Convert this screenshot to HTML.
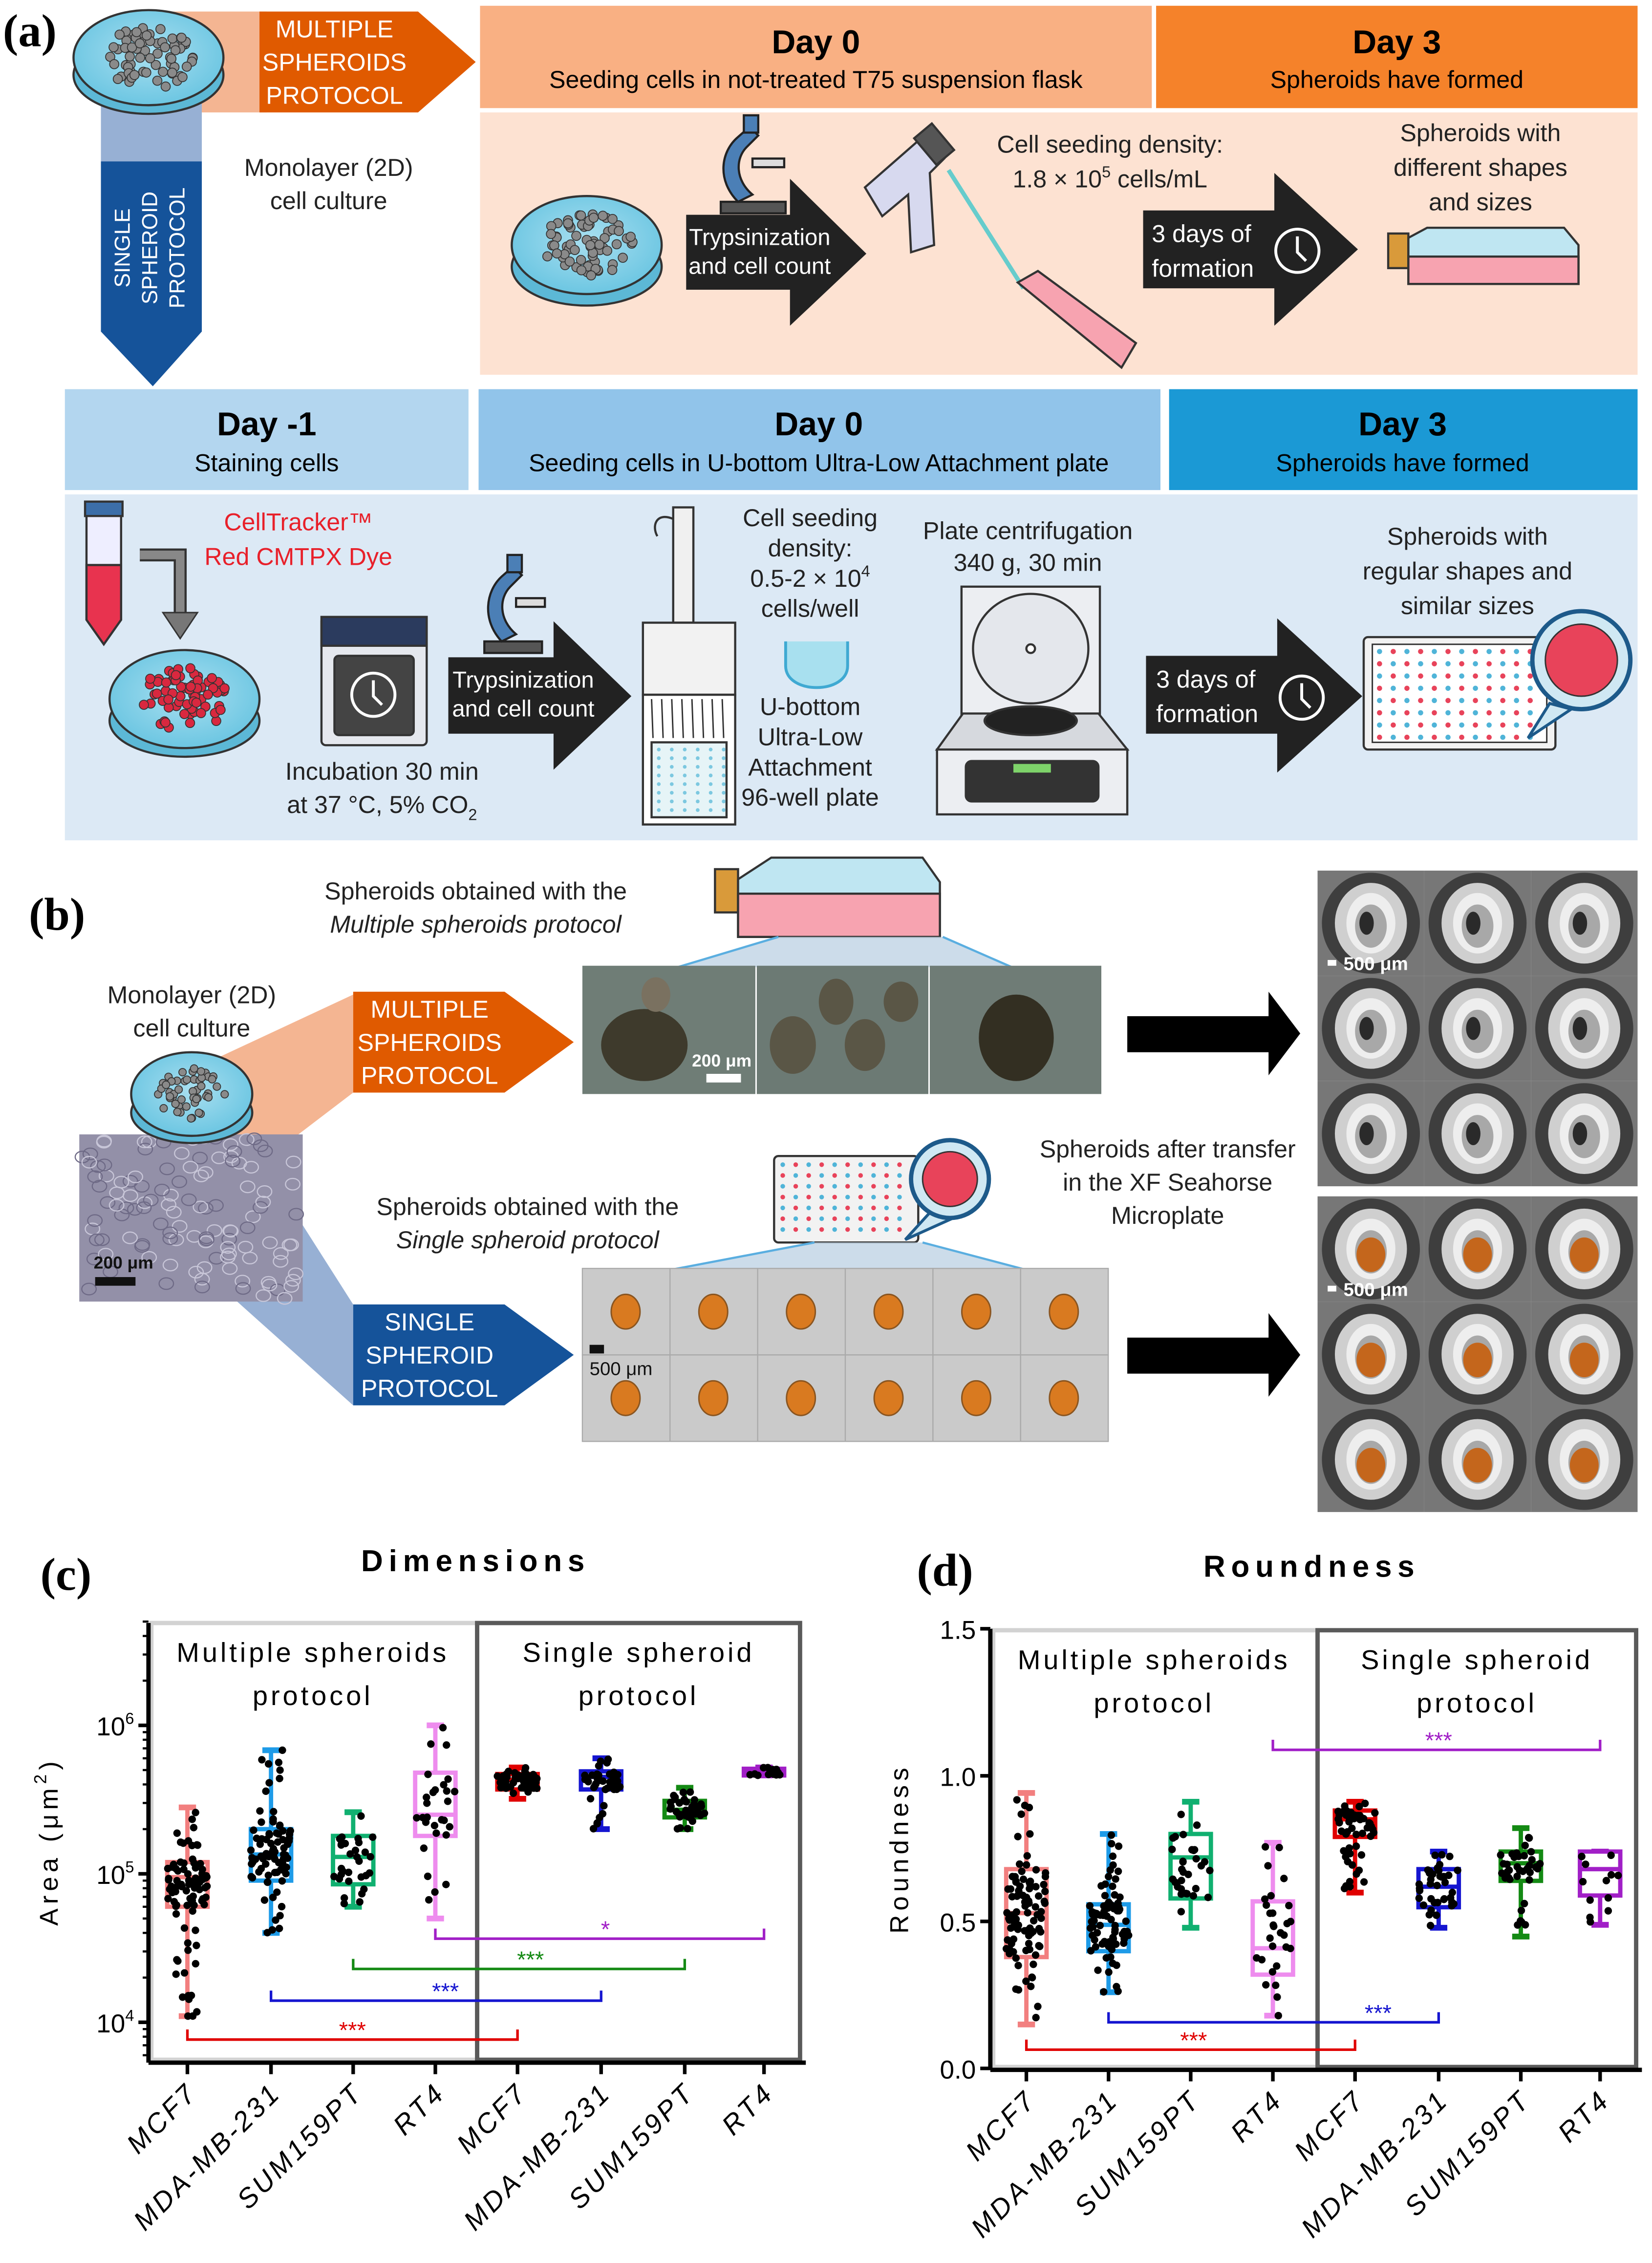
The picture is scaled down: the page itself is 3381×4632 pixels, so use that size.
<!DOCTYPE html>
<html><head><meta charset="utf-8">
<style>
html,body{margin:0;padding:0;background:#fff;}
body{width:3381px;height:4632px;overflow:hidden;}
svg{display:block;}
text{font-family:"Liberation Sans Narrow","Liberation Sans",sans-serif;}
.c{text-anchor:middle;}
.lab{font-family:"Liberation Serif",serif;font-weight:bold;font-size:32px;}
.wh{fill:#fff;font-size:17px;text-anchor:middle;}
.hd{font-size:23px;font-weight:bold;text-anchor:middle;}
.sb{font-size:17px;text-anchor:middle;}
.t{font-size:17px;text-anchor:middle;fill:#222;}
.ax{font-family:"Liberation Sans",sans-serif;}
</style></head><body>
<svg id="s" width="3381" height="4632" viewBox="0 0 1146 1570" preserveAspectRatio="none" xmlns="http://www.w3.org/2000/svg">
<defs>
<radialGradient id="dish" cx="50%" cy="45%" r="55%"><stop offset="0" stop-color="#a9dff0"/><stop offset="1" stop-color="#6cc6e2"/></radialGradient>
</defs>
<!-- (a) -->
<text x="2" y="32" class="lab">(a)</text>
<rect x="95" y="8" width="90" height="70" fill="#f4b592"/>
<polygon points="180,8 290,8 330,43 290,78 180,78" fill="#e05a00"/>
<text x="232" y="26" class="wh">MULTIPLE</text>
<text x="232" y="49" class="wh">SPHEROIDS</text>
<text x="232" y="72" class="wh">PROTOCOL</text>
<rect x="70" y="70" width="70" height="42" fill="#97b0d4"/>
<polygon points="70,112 140,112 140,230 106,268 70,230" fill="#15539a"/>
<g transform="translate(106,172) rotate(-90)" fill="#fff" font-size="15" text-anchor="middle" style="font-family:'Liberation Sans',sans-serif">
<text x="0" y="-16">SINGLE</text><text x="0" y="3">SPHEROID</text><text x="0" y="22">PROTOCOL</text></g>
<ellipse cx="103" cy="52" rx="52" ry="27" fill="#5cb8d6" stroke="#333" stroke-width="1.5"/>
<ellipse cx="103" cy="40" rx="52" ry="33" fill="url(#dish)" stroke="#333" stroke-width="1.5"/>
<g id="cells1"></g>
<text x="228" y="122" class="t">Monolayer (2D)</text>
<text x="228" y="145" class="t">cell culture</text>

<rect x="333" y="4" width="466" height="71" fill="#f9b083"/>
<rect x="802" y="4" width="334" height="71" fill="#f5822a"/>
<rect x="333" y="78" width="803" height="182" fill="#fde2d2"/>
<text x="566" y="37" class="hd">Day 0</text>
<text x="566" y="61" class="sb">Seeding cells in not-treated T75 suspension flask</text>
<text x="969" y="37" class="hd">Day 3</text>
<text x="969" y="61" class="sb">Spheroids have formed</text>

<ellipse cx="407" cy="185" rx="52" ry="27" fill="#5cb8d6" stroke="#333" stroke-width="1.5"/>
<ellipse cx="407" cy="170" rx="52" ry="34" fill="url(#dish)" stroke="#333" stroke-width="1.5"/>
<g id="cells2"></g>
<g transform="translate(492,80)" stroke="#222" stroke-width="1.5">
<rect x="8" y="60" width="45" height="8" fill="#555"/>
<path d="M20,60 C5,45 8,25 20,15 L28,8 L34,14 L26,22 C18,30 18,45 30,55 Z" fill="#4b7fb6"/>
<rect x="24" y="0" width="10" height="12" fill="#4b7fb6"/>
<rect x="30" y="30" width="22" height="6" fill="#ddd"/>
</g>
<polygon points="476,149 548,149 548,124 601,176 548,226 548,201 476,201" fill="#222"/>
<text x="527" y="170" font-size="16" fill="#fff" text-anchor="middle">Trypsinization</text>
<text x="527" y="190" font-size="16" fill="#fff" text-anchor="middle">and cell count</text>
<g stroke="#333" stroke-width="1.5">
<path d="M600,130 L640,95 L655,110 L645,120 L648,170 L632,175 L630,135 L612,150 Z" fill="#d7d9ef"/>
<rect x="640" y="88" width="16" height="24" fill="#555" transform="rotate(-40 648 100)"/>
<line x1="658" y1="118" x2="710" y2="200" stroke="#6cc" stroke-width="3"/>
<polygon points="706,196 720,188 788,238 778,255" fill="#f7a3b0"/>
</g>
<text x="770" y="106" class="t">Cell seeding density:</text>
<text x="770" y="130" class="t">1.8 × 10<tspan dy="-7" font-size="11">5</tspan><tspan dy="7"> cells/mL</tspan></text>
<polygon points="793,146 884,146 884,120 942,173 884,226 884,200 793,200" fill="#222"/>
<text x="799" y="168" font-size="17" fill="#fff">3 days of</text>
<text x="799" y="192" font-size="17" fill="#fff">formation</text>
<circle cx="900" cy="174" r="15" fill="none" stroke="#fff" stroke-width="2"/>
<path d="M900,164 L900,175 L906,181" stroke="#fff" stroke-width="2" fill="none"/>
<text x="1027" y="98" class="t">Spheroids with</text>
<text x="1027" y="122" class="t">different shapes</text>
<text x="1027" y="146" class="t">and sizes</text>
<g stroke="#333" stroke-width="1.5">
<rect x="963" y="162" width="14" height="24" fill="#d99a3a"/>
<polygon points="977,165 990,158 1085,158 1095,170 1095,197 977,197" fill="#bfe6f2"/>
<rect x="977" y="178" width="118" height="19" fill="#f7a3b0"/>
</g>

<rect x="45" y="270" width="280" height="70" fill="#b3d6ef"/>
<rect x="332" y="270" width="473" height="70" fill="#91c4ea"/>
<rect x="811" y="270" width="325" height="70" fill="#1b99d5"/>
<rect x="45" y="343" width="1091" height="240" fill="#dce9f5"/>
<text x="185" y="302" class="hd">Day -1</text>
<text x="185" y="327" class="sb">Staining cells</text>
<text x="568" y="302" class="hd">Day 0</text>
<text x="568" y="327" class="sb">Seeding cells in U-bottom Ultra-Low Attachment plate</text>
<text x="973" y="302" class="hd">Day 3</text>
<text x="973" y="327" class="sb">Spheroids have formed</text>
<g stroke="#333" stroke-width="1.5">
<rect x="59" y="348" width="26" height="10" fill="#3c6ea8"/>
<path d="M60,358 L84,358 L84,430 L72,447 L60,430 Z" fill="#eef"/>
<path d="M60,392 L84,392 L84,430 L72,447 L60,430 Z" fill="#e8334f"/>
</g>
<path d="M97,385 L125,385 L125,430" stroke="#333" stroke-width="9" fill="none"/>
<path d="M97,385 L125,385 L125,430" stroke="#888" stroke-width="6" fill="none"/>
<polygon points="113,425 137,425 125,443" fill="#777" stroke="#333"/>
<text x="207" y="368" font-size="17" fill="#e8202a" text-anchor="middle">CellTracker™</text>
<text x="207" y="392" font-size="17" fill="#e8202a" text-anchor="middle">Red CMTPX Dye</text>
<ellipse cx="128" cy="500" rx="52" ry="25" fill="#5cb8d6" stroke="#333" stroke-width="1.5"/>
<ellipse cx="128" cy="485" rx="52" ry="34" fill="url(#dish)" stroke="#333" stroke-width="1.5"/>
<g id="cells3"></g>
<g stroke="#333" stroke-width="1.5">
<rect x="223" y="428" width="73" height="89" rx="3" fill="#e5e8ee"/>
<rect x="223" y="428" width="73" height="20" fill="#2b3b5e"/>
<rect x="232" y="455" width="55" height="55" rx="3" fill="#444"/>
<circle cx="259" cy="482" r="15" fill="none" stroke="#fff" stroke-width="2"/>
<path d="M259,472 L259,483 L265,489" stroke="#fff" stroke-width="2" fill="none"/>
</g>
<text x="265" y="541" class="t">Incubation 30 min</text>
<text x="265" y="564" class="t">at 37 °C, 5% CO<tspan dy="5" font-size="11">2</tspan></text>
<g transform="translate(330,385)" stroke="#222" stroke-width="1.5">
<rect x="6" y="60" width="40" height="8" fill="#555"/>
<path d="M18,60 C4,45 7,25 18,15 L26,8 L32,14 L24,22 C16,30 16,45 28,55 Z" fill="#4b7fb6"/>
<rect x="22" y="0" width="10" height="12" fill="#4b7fb6"/>
<rect x="28" y="30" width="20" height="6" fill="#ddd"/>
</g>
<polygon points="311,456 384,456 384,431 438,483 384,534 384,509 311,509" fill="#222"/>
<text x="363" y="477" font-size="16" fill="#fff" text-anchor="middle">Trypsinization</text>
<text x="363" y="497" font-size="16" fill="#fff" text-anchor="middle">and cell count</text>
<g stroke="#333" stroke-width="1.5">
<rect x="467" y="352" width="14" height="80" fill="#f0f0f0"/>
<path d="M467,360 C455,355 452,365 456,372" fill="none"/>
<rect x="446" y="432" width="64" height="50" fill="#f2f2f2"/>
<rect x="446" y="482" width="64" height="90" fill="#fff"/>
<rect x="452" y="515" width="52" height="52" fill="#e6f4f7"/>
</g>
<g id="mcp"></g>
<text x="562" y="365" class="t">Cell seeding</text>
<text x="562" y="386" class="t">density:</text>
<text x="562" y="407" class="t">0.5-2 × 10<tspan dy="-7" font-size="11">4</tspan></text>
<text x="562" y="428" class="t">cells/well</text>
<path d="M545,445 L545,462 C545,482 588,482 588,462 L588,445" fill="#a8e0ef" stroke="#3fa9d2" stroke-width="2"/>
<text x="562" y="496" class="t">U-bottom</text>
<text x="562" y="517" class="t">Ultra-Low</text>
<text x="562" y="538" class="t">Attachment</text>
<text x="562" y="559" class="t">96-well plate</text>
<text x="713" y="374" class="t">Plate centrifugation</text>
<text x="713" y="396" class="t">340 g, 30 min</text>
<g stroke="#333" stroke-width="1.5">
<rect x="667" y="407" width="96" height="100" fill="#eceef2"/>
<ellipse cx="715" cy="450" rx="40" ry="38" fill="#e4e7ec"/>
<circle cx="715" cy="450" r="3" fill="#fff"/>
<path d="M650,520 L668,495 L762,495 L782,520 Z" fill="#d6d9de"/>
<ellipse cx="715" cy="500" rx="32" ry="10" fill="#222"/>
<rect x="650" y="520" width="132" height="45" fill="#eceef2"/>
<rect x="670" y="528" width="92" height="28" rx="4" fill="#333"/>
<rect x="703" y="530" width="26" height="6" fill="#7ed36a" stroke="none"/>
</g>
<polygon points="795,455 886,455 886,429 945,483 886,536 886,509 795,509" fill="#222"/>
<text x="802" y="477" font-size="17" fill="#fff">3 days of</text>
<text x="802" y="501" font-size="17" fill="#fff">formation</text>
<circle cx="903" cy="484" r="15" fill="none" stroke="#fff" stroke-width="2"/>
<path d="M903,474 L903,485 L909,491" stroke="#fff" stroke-width="2" fill="none"/>
<text x="1018" y="378" class="t">Spheroids with</text>
<text x="1018" y="402" class="t">regular shapes and</text>
<text x="1018" y="426" class="t">similar sizes</text>
<rect x="946" y="442" width="133" height="78" rx="3" fill="#f2f2f2" stroke="#333" stroke-width="1.5"/>
<rect x="952" y="447" width="121" height="68" fill="#fff" stroke="#333"/>
<g id="plate1"></g>
<path d="M1075,488 L1060,512 L1090,492 Z" fill="#cfe8f3" stroke="#1d5a8a" stroke-width="2"/>
<circle cx="1097" cy="458" r="34" fill="#cfe8f3" stroke="#1d5a8a" stroke-width="3"/>
<circle cx="1097" cy="458" r="25" fill="#e8435a" stroke="#333"/>

<!-- (b) -->
<text x="20" y="645" class="lab">(b)</text>
<text x="330" y="624" class="t">Spheroids obtained with the</text>
<text x="330" y="647" class="t" font-style="italic">Multiple spheroids protocol</text>
<text x="133" y="696" class="t">Monolayer (2D)</text>
<text x="133" y="719" class="t">cell culture</text>
<g stroke="#333" stroke-width="1.5">
<rect x="496" y="603" width="16" height="30" fill="#d99a3a"/>
<polygon points="512,610 535,595 640,595 652,612 652,650 512,650" fill="#bfe6f2"/>
<rect x="512" y="620" width="140" height="30" fill="#f7a3b0"/>
</g>
<polygon points="540,650 654,650 702,671 470,671" fill="#c3d6e6" opacity="0.85"/>
<line x1="540" y1="650" x2="470" y2="671" stroke="#5aaee0" stroke-width="1.5"/>
<line x1="654" y1="650" x2="702" y2="671" stroke="#5aaee0" stroke-width="1.5"/>
<rect x="404" y="670" width="120" height="89" fill="#6f7d76"/>
<rect x="525" y="670" width="119" height="89" fill="#6c7a74"/>
<rect x="645" y="670" width="119" height="89" fill="#6f7c76"/>
<ellipse cx="447" cy="725" rx="30" ry="25" fill="#3e3a2c"/>
<ellipse cx="455" cy="690" rx="10" ry="12" fill="#7a7160"/>
<ellipse cx="550" cy="725" rx="16" ry="20" fill="#5a5646"/>
<ellipse cx="580" cy="695" rx="12" ry="16" fill="#5a5646"/>
<ellipse cx="600" cy="725" rx="14" ry="18" fill="#5a5646"/>
<ellipse cx="625" cy="695" rx="12" ry="14" fill="#5a5646"/>
<ellipse cx="705" cy="720" rx="26" ry="30" fill="#332f22"/>
<text x="480" y="740" font-size="12" fill="#fff" font-weight="bold" style="font-family:'Liberation Sans',sans-serif">200 μm</text>
<rect x="490" y="745" width="24" height="6" fill="#fff"/>
<polygon points="95,760 245,690 245,758 190,800" fill="#f4b592"/>
<polygon points="245,688 350,688 398,723 350,758 245,758" fill="#e05a00"/>
<text x="298" y="706" class="wh">MULTIPLE</text>
<text x="298" y="729" class="wh">SPHEROIDS</text>
<text x="298" y="752" class="wh">PROTOCOL</text>
<polygon points="150,890 210,850 245,905 245,975" fill="#97b0d4"/>
<polygon points="245,905 350,905 398,940 350,975 245,975" fill="#15539a"/>
<text x="298" y="923" class="wh">SINGLE</text>
<text x="298" y="946" class="wh">SPHEROID</text>
<text x="298" y="969" class="wh">PROTOCOL</text>
<rect x="55" y="787" width="155" height="116" fill="#9390a8"/>
<g id="cellimg"></g>
<text x="65" y="880" font-size="12" font-weight="bold" fill="#111" style="font-family:'Liberation Sans',sans-serif">200 μm</text>
<rect x="66" y="886" width="28" height="6" fill="#111"/>
<ellipse cx="133" cy="772" rx="42" ry="21" fill="#5cb8d6" stroke="#333" stroke-width="1.5"/>
<ellipse cx="133" cy="759" rx="42" ry="29" fill="url(#dish)" stroke="#333" stroke-width="1.5"/>
<g id="cells4"></g>
<text x="366" y="843" class="t">Spheroids obtained with the</text>
<text x="366" y="866" class="t" font-style="italic">Single spheroid protocol</text>
<rect x="537" y="802" width="100" height="60" rx="3" fill="#f2f2f2" stroke="#333" stroke-width="1.5"/>
<g id="plate2"></g>
<path d="M648,838 L628,860 L668,842 Z" fill="#cfe8f3" stroke="#1d5a8a" stroke-width="2"/>
<circle cx="659" cy="818" r="27" fill="#cfe8f3" stroke="#1d5a8a" stroke-width="3"/>
<circle cx="659" cy="818" r="19" fill="#e8435a" stroke="#333"/>
<polygon points="565,862 640,862 712,881 465,881" fill="#c3d6e6" opacity="0.85"/>
<line x1="565" y1="862" x2="465" y2="881" stroke="#5aaee0" stroke-width="1.5"/>
<line x1="640" y1="862" x2="712" y2="881" stroke="#5aaee0" stroke-width="1.5"/>
<g id="strip"></g>
<rect x="409" y="933" width="10" height="6" fill="#111"/>
<text x="409" y="954" font-size="13" fill="#111">500 μm</text>
<text x="810" y="803" class="t">Spheroids after transfer</text>
<text x="810" y="826" class="t">in the XF Seahorse</text>
<text x="810" y="849" class="t">Microplate</text>
<polygon points="782,705 880,705 880,688 902,717 880,746 880,730 782,730" fill="#000"/>
<polygon points="782,928 880,928 880,911 902,940 880,969 880,953 782,953" fill="#000"/>
<g id="wells"></g>

<text x="28" y="1103" class="lab">(c)</text>
<text x="330" y="1090" font-size="21" font-weight="bold" text-anchor="middle" letter-spacing="4" style="font-family:'Liberation Sans',sans-serif">Dimensions</text>
<text x="636" y="1100" class="lab">(d)</text>
<text x="910" y="1094" font-size="21" font-weight="bold" text-anchor="middle" letter-spacing="4" style="font-family:'Liberation Sans',sans-serif">Roundness</text>
<g id="charts"></g>
</svg>
<script>
(function(){
var NS="http://www.w3.org/2000/svg";
function el(p,t,a,txt){var e=document.createElementNS(NS,t);for(var k in a)e.setAttribute(k,a[k]);if(txt!=null)e.textContent=txt;document.getElementById(p).appendChild(e);return e;}
var seed=7;function rnd(){seed=(seed*16807)%2147483647;return (seed-1)/2147483646;}
function blobs(id,cx,cy,rx,ry,n,col,r){for(var i=0;i<n;i++){var a=rnd()*6.283,d=Math.sqrt(rnd());el(id,"circle",{cx:cx+Math.cos(a)*rx*d,cy:cy+Math.sin(a)*ry*d,r:r,fill:col,stroke:"#333","stroke-width":0.6});}}
blobs("cells1",103,40,32,22,70,"#8a8a8a",3.2);
blobs("cells2",407,170,32,22,70,"#8a8a8a",3.2);
blobs("cells3",128,485,32,22,70,"#d9283f",3.2);
blobs("cells4",133,759,25,18,50,"#8a8a8a",2.6);
for(var i=0;i<120;i++){el("cellimg","ellipse",{cx:57+rnd()*151,cy:789+rnd()*112,rx:5,ry:4,fill:"none",stroke:rnd()>0.5?"#c8c6d8":"#6e6a86","stroke-width":0.8});}
for(var r=0;r<8;r++)for(var c=0;c<12;c++){el("plate1","circle",{cx:957+c*9.5,cy:452+r*8.5,r:1.8,fill:(c+r)%2?"#e8435a":"#4fb4d8"});}
for(var r=0;r<7;r++)for(var c=0;c<10;c++){el("plate2","circle",{cx:543+c*9,cy:808+r*7.5,r:1.6,fill:(c+r)%2?"#e8435a":"#4fb4d8"});}
for(var r=0;r<8;r++)for(var c=0;c<6;c++){el("mcp","circle",{cx:457+c*9,cy:520+r*6,r:1.3,fill:"#7cc8e0"});}
for(var c=0;c<8;c++){el("mcp","line",{x1:452+c*7,y1:485,x2:453+c*7,y2:512,stroke:"#333","stroke-width":1});}
for(var r=0;r<2;r++)for(var c=0;c<6;c++){var x=404+c*60.8,y=880+r*60;el("strip","rect",{x:x,y:y,width:60.8,height:60,fill:"#cacaca",stroke:"#aaa","stroke-width":0.8});el("strip","ellipse",{cx:x+30,cy:y+30,rx:10,ry:12,fill:"#d97a20",stroke:"#8a5520","stroke-width":1});}
[604,830].forEach(function(top,b){for(var r=0;r<3;r++)for(var c=0;c<3;c++){var x=914+c*74,y=top+r*73,cx=x+37,cy=y+36.5;
el("wells","rect",{x:x,y:y,width:74,height:73,fill:"#777"});
el("wells","ellipse",{cx:cx,cy:cy,rx:34,ry:35,fill:"#3e3e3e"});
el("wells","ellipse",{cx:cx,cy:cy,rx:25,ry:28,fill:"#cfcfcf"});
el("wells","ellipse",{cx:cx,cy:cy,rx:17,ry:21,fill:"#eee"});
el("wells","ellipse",{cx:cx,cy:cy+2,rx:11,ry:15,fill:"#a8a8a8"});
if(b)el("wells","ellipse",{cx:cx,cy:cy+4,rx:10,ry:12,fill:"#c4661c"});else el("wells","ellipse",{cx:cx-3,cy:cy,rx:5,ry:8,fill:"#2a2a2a"});}});
el("wells","rect",{x:921,y:666,width:6,height:4,fill:"#fff"});el("wells","text",{x:932,y:673,"font-size":13,fill:"#fff","font-weight":"bold"},"500 μm");
el("wells","rect",{x:921,y:892,width:6,height:4,fill:"#fff"});el("wells","text",{x:932,y:899,"font-size":13,fill:"#fff","font-weight":"bold"},"500 μm");
var F="font-family:'Liberation Sans',sans-serif";
function chart(o){
 var g="charts";
 el(g,"rect",{x:o.x0+2,y:o.top,width:o.mid-o.x0-2,height:o.bot-o.top,fill:"#fff",stroke:"#d2d2d2","stroke-width":3});
 el(g,"rect",{x:o.mid,y:o.top,width:o.x1-o.mid,height:o.bot-o.top,fill:"#fff",stroke:"#5a5a5a","stroke-width":3});
 el(g,"text",{x:(o.x0+o.mid)/2,y:o.top+27,"font-size":19,"text-anchor":"middle","letter-spacing":"2",style:F},"Multiple spheroids");
 el(g,"text",{x:(o.x0+o.mid)/2,y:o.top+57,"font-size":19,"text-anchor":"middle","letter-spacing":"2",style:F},"protocol");
 el(g,"text",{x:(o.mid+o.x1)/2,y:o.top+27,"font-size":19,"text-anchor":"middle","letter-spacing":"2",style:F},"Single spheroid");
 el(g,"text",{x:(o.mid+o.x1)/2,y:o.top+57,"font-size":19,"text-anchor":"middle","letter-spacing":"2",style:F},"protocol");
 el(g,"line",{x1:o.x0,y1:o.axTop,x2:o.x0,y2:o.bot+2,stroke:"#000","stroke-width":3});
 el(g,"line",{x1:o.x0,y1:o.bot+2,x2:o.x1+4,y2:o.bot+2,stroke:"#000","stroke-width":3});
 o.ticks.forEach(function(t){el(g,"line",{x1:o.x0-7,y1:t[0],x2:o.x0,y2:t[0],stroke:"#000","stroke-width":2.5});
   var tx=el(g,"text",{x:o.x0-10,y:t[0]+7,"font-size":18,"text-anchor":"end",style:F});tx.innerHTML=t[1];});
 if(o.minor)o.minor.forEach(function(y){el(g,"line",{x1:o.x0-4,y1:y,x2:o.x0,y2:y,stroke:"#000","stroke-width":1.5});});
 var names=["MCF7","MDA-MB-231","SUM159PT","RT4","MCF7","MDA-MB-231","SUM159PT","RT4"];
 o.xs.forEach(function(x,i){el(g,"line",{x1:x,y1:o.bot+2,x2:x,y2:o.bot+10,stroke:"#000","stroke-width":2.5});
  el(g,"text",{x:x+8,y:o.bot+24,"font-size":19,"font-style":"italic","text-anchor":"end","letter-spacing":"2",transform:"rotate(-45 "+(x+8)+" "+(o.bot+24)+")",style:F},names[i]);});
 var yl=el(g,"text",{x:0,y:0,"font-size":18,"text-anchor":"middle","letter-spacing":"3",transform:"translate("+o.ylx+","+((o.top+o.bot)/2)+") rotate(-90)",style:F});yl.innerHTML=o.ylab;
 var cols=["#f27f7f","#1e9be8","#10b070","#ee8cee","#e00000","#1515d0","#148a14","#a11fc7"];
 o.d.forEach(function(d,i){var x=o.xs[i],c=cols[i],w=28,Y=o.Y;
  var yw1=Y(d[0]),yw2=Y(d[1]),yb1=Y(d[2]),yb2=Y(d[3]),ym=Y(d[4]);
  el(g,"line",{x1:x,y1:yw1,x2:x,y2:yw2,stroke:c,"stroke-width":3});
  el(g,"line",{x1:x-6,y1:yw1,x2:x+6,y2:yw1,stroke:c,"stroke-width":4});
  el(g,"line",{x1:x-6,y1:yw2,x2:x+6,y2:yw2,stroke:c,"stroke-width":4});
  el(g,"rect",{x:x-w/2,y:yb2,width:w,height:yb1-yb2,fill:"#fff",stroke:c,"stroke-width":3});
  el(g,"line",{x1:x-w/2,y1:ym,x2:x+w/2,y2:ym,stroke:c,"stroke-width":3});
  var n=d[5];for(var k=0;k<n;k++){var u=rnd(),v;
   if(u<0.6)v=yb1+(yb2-yb1)*rnd();else v=yw1+(yw2-yw1)*rnd();
   var sp=(v<=yb1&&v>=yb2)?w/2:8;el(g,"circle",{cx:x+(rnd()*2-1)*sp,cy:v,r:2.6,fill:"#000"});}
 });
 o.sig.forEach(function(s){var a=o.xs[s[0]],b=o.xs[s[1]];
  el(g,"path",{d:"M"+a+","+(s[2]-7)+" L"+a+","+s[2]+" L"+b+","+s[2]+" L"+b+","+(s[2]-7),fill:"none",stroke:s[3],"stroke-width":1.8});
  el(g,"text",{x:s[5]||(a+b)/2,y:s[2]-1,"font-size":16,"text-anchor":"middle",fill:s[3],style:F},s[4]);});
}
var L=function(v){return 1403-(Math.log(v)/Math.LN10-4)*103;};
var minor=[];[3,4,5,6].forEach(function(e){for(var m=2;m<10;m++)minor.push(L(m*Math.pow(10,e)));});
minor=minor.filter(function(y){return y>1125&&y<1430;});
chart({x0:103,x1:555,mid:331,top:1126,bot:1429,axTop:1126,Y:L,ylx:40,
 ylab:'Area (μm<tspan dy="-8" font-size="12">2</tspan><tspan dy="8">)</tspan>',
 ticks:[[1197,'10<tspan dy="-8" font-size="11">6</tspan>'],[1300,'10<tspan dy="-8" font-size="11">5</tspan>'],[1403,'10<tspan dy="-8" font-size="11">4</tspan>']],
 minor:minor,
 xs:[130,188,245,302,359,417,475,530],
 d:[[1.1e4,2.8e5,6e4,1.2e5,9.5e4,90],[4e4,6.8e5,9e4,2e5,1.35e5,80],[6e4,2.6e5,8.5e4,1.8e5,1.3e5,30],[5e4,1e6,1.8e5,4.8e5,2.5e5,28],
    [3.2e5,5.2e5,3.7e5,4.7e5,4.3e5,50],[2e5,6e5,3.7e5,4.9e5,4.5e5,40],[2e5,3.8e5,2.4e5,3.1e5,2.7e5,40],[4.6e5,5.2e5,4.6e5,5.1e5,4.9e5,12]],
 sig:[[0,4,1415,"#e00000","***"],[1,5,1388,"#1515d0","***",309],[2,6,1366,"#148a14","***",368],[3,7,1345,"#a11fc7","*",420]]});
var R=function(v){return 1435-v*203.3;};
chart({x0:687,x1:1135,mid:914,top:1131,bot:1434,axTop:1130,Y:R,ylx:630,ylab:"Roundness",
 ticks:[[1130,"1.5"],[1232,"1.0"],[1333,"0.5"],[1435,"0.0"]],
 xs:[712,769,826,883,940,998,1055,1110],
 d:[[0.15,0.94,0.38,0.68,0.53,90],[0.26,0.80,0.40,0.56,0.49,80],[0.48,0.91,0.58,0.80,0.72,30],[0.18,0.77,0.32,0.57,0.41,28],
    [0.60,0.91,0.79,0.88,0.85,50],[0.48,0.74,0.55,0.68,0.62,40],[0.45,0.82,0.64,0.74,0.70,40],[0.49,0.74,0.59,0.74,0.68,12]],
 sig:[[0,4,1422,"#e00000","***",828],[1,5,1403,"#1515d0","***",956],[3,7,1214,"#a11fc7","***",998]]});
})();
</script>
</body></html>
